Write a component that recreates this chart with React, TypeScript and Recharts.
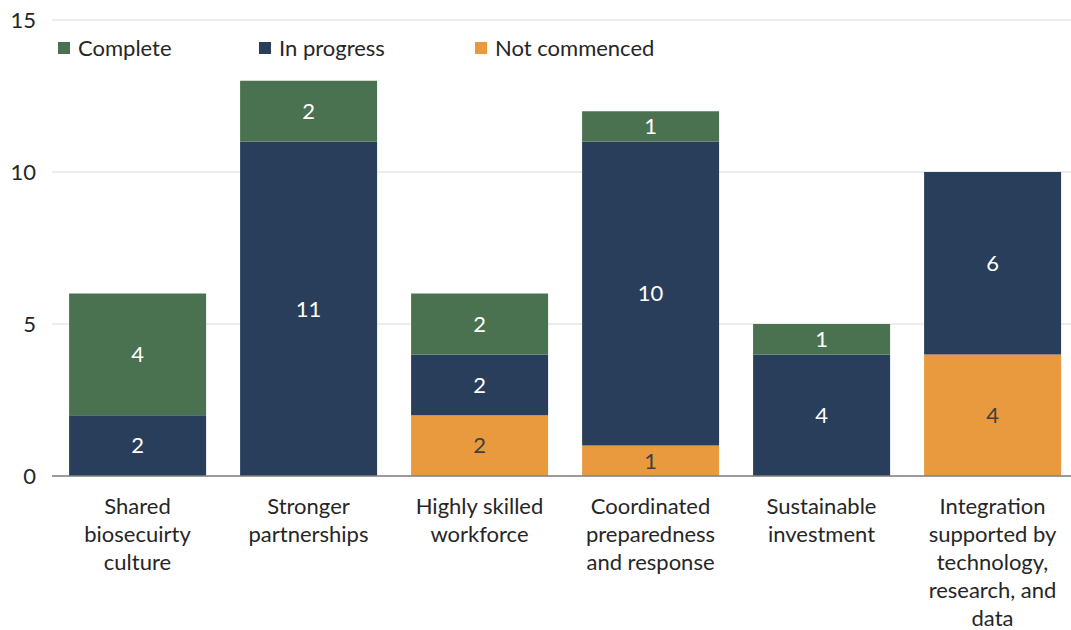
import React from "react";
import { BarChart, Bar, XAxis, YAxis, CartesianGrid, LabelList } from "recharts";

const categories = [
  "Shared\nbiosecuirty\nculture",
  "Stronger\npartnerships",
  "Highly skilled\nworkforce",
  "Coordinated\npreparedness\nand response",
  "Sustainable\ninvestment",
  "Integration\nsupported by\ntechnology,\nresearch, and\ndata",
];
const notCommenced = [0, 0, 2, 1, 0, 4];
const inProgress = [2, 11, 2, 10, 4, 6];
const complete = [4, 2, 2, 1, 1, 0];
const yTicks = [0, 5, 10, 15];

const data = categories.map((name, i) => ({
  name,
  notCommenced: notCommenced[i],
  inProgress: inProgress[i],
  complete: complete[i],
}));

const FONT = "Lato, 'Open Sans', sans-serif";
const GREEN = "#4B7250";
const NAVY = "#293E5A";
const ORANGE = "#E99A3E";

const legendItems = [
  { label: "Complete", color: GREEN, left: 58 },
  { label: "In progress", color: NAVY, left: 259 },
  { label: "Not commenced", color: ORANGE, left: 475 },
];

function CategoryTick(props: any) {
  const { x, y, payload } = props;
  const lines = String(payload.value).split("\n");
  return (
    <text x={x} y={y} textAnchor="middle" fill="#262626" fontSize={22} fontFamily={FONT}>
      {lines.map((l, i) => (
        <tspan key={i} x={x} dy={i === 0 ? 30 : 28}>
          {l}
        </tspan>
      ))}
    </text>
  );
}

const hideZero = (v: any) => (Number(v) === 0 ? "" : v);

export default function App() {
  return (
    <div style={{ position: "absolute", left: 0, top: 0, width: 1071, height: 630, overflow: "hidden", background: "#fff" }}>
      <BarChart
        width={1078}
        height={630}
        data={data}
        margin={{ top: 20, right: 0, left: 0, bottom: 0 }}
        barCategoryGap="10%"
      >
        <CartesianGrid stroke="#D9D9D9" vertical={false} />
        <XAxis
          dataKey="name"
          height={154}
          tickLine={false}
          axisLine={{ stroke: "#808080", strokeWidth: 1.5 }}
          tick={<CategoryTick />}
          interval={0}
        />
        <YAxis
          width={52}
          domain={[0, 15]}
          ticks={yTicks}
          axisLine={false}
          tickLine={false}
          tickSize={0}
          tickMargin={16}
          tick={{ fill: "#262626", fontSize: 22, fontFamily: FONT }}
        />
        <Bar dataKey="notCommenced" stackId="a" fill={ORANGE} isAnimationActive={false}>
          <LabelList dataKey="notCommenced" position="center" formatter={hideZero} fill="#404040" fontSize={22} fontFamily={FONT} />
        </Bar>
        <Bar dataKey="inProgress" stackId="a" fill={NAVY} isAnimationActive={false}>
          <LabelList dataKey="inProgress" position="center" formatter={hideZero} fill="#FFFFFF" fontSize={22} fontFamily={FONT} />
        </Bar>
        <Bar dataKey="complete" stackId="a" fill={GREEN} isAnimationActive={false}>
          <LabelList dataKey="complete" position="center" formatter={hideZero} fill="#FFFFFF" fontSize={22} fontFamily={FONT} />
        </Bar>
      </BarChart>
      {legendItems.map((it) => (
        <div
          key={it.label}
          style={{
            position: "absolute",
            left: it.left,
            top: 34,
            display: "flex",
            alignItems: "center",
            whiteSpace: "nowrap",
            fontFamily: FONT,
            fontSize: 22,
            color: "#262626",
            lineHeight: "28px",
          }}
        >
          <span style={{ width: 12, height: 12, background: it.color, display: "inline-block", marginRight: 8 }} />
          {it.label}
        </div>
      ))}
    </div>
  );
}
